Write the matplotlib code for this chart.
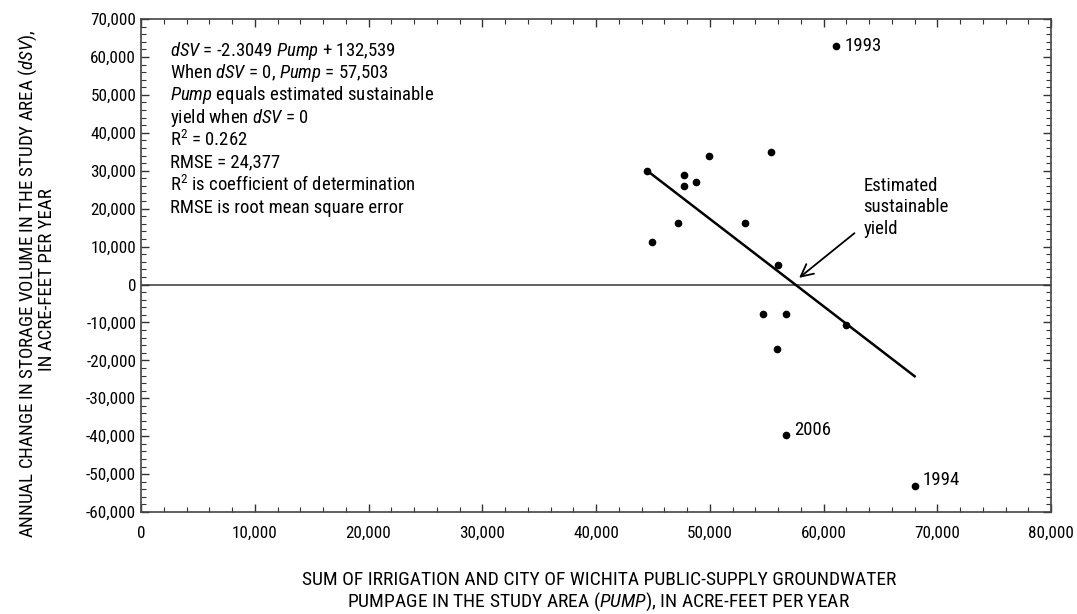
import matplotlib
matplotlib.use("Agg")
import matplotlib.pyplot as plt
from matplotlib import font_manager
from matplotlib.ticker import MultipleLocator, FuncFormatter

# condensed face if there is one, else Roboto
have = {f.name for f in font_manager.fontManager.ttflist}
face = "Roboto"
for cand in ["Roboto Condensed", "Liberation Sans Narrow", "Open Sans Condensed", "Arial Narrow"]:
    if cand in have:
        face = cand
        break

plt.rcParams['font.family'] = [face, 'DejaVu Sans']
plt.rcParams['mathtext.fontset'] = 'custom'
plt.rcParams['mathtext.rm'] = face
plt.rcParams['mathtext.it'] = face + ':italic'

fs_note = 13.5
fs_tick = 12.3
fs_xlab = 14
fs_ylab = 13.6

# pumpage (acre-ft/yr) and change in storage (acre-ft/yr)
pump = [44500, 49900, 55400, 47700, 47700, 48800, 47200, 53100, 44900, 56000,
        54700, 56700, 55900, 62000, 61100, 56700, 68000]
dsv = [30000, 34000, 35000, 29000, 26100, 27000, 16100, 16100, 11100, 5100,
       -7900, -7900, -16900, -10800, 63000, -39800, -53000]
labels = {14: "1993", 15: "2006", 16: "1994"}

slope = -2.3049
intercept = 132539
yield_pump = 57503

notes = [
    r"$\mathit{dSV}$ = -2.3049 $\mathit{Pump}$ + 132,539",
    r"When $\mathit{dSV}$ = 0, $\mathit{Pump}$ = 57,503",
    r"$\mathit{Pump}$ equals estimated sustainable",
    r"yield when $\mathit{dSV}$ = 0",
    r"R$^2$ = 0.262",
    r"RMSE = 24,377",
    r"R$^2$ is coefficient of determination",
    r"RMSE is root mean square error",
]

fig = plt.figure(figsize=(10.77, 6.14), dpi=100)
ax = fig.add_axes([0.131, 0.166, 0.845, 0.803])

ax.axhline(0, color="#555555", lw=1.3, zorder=1)

x0, x1 = min(pump), max(pump)
ax.plot([x0, x1], [slope * x0 + intercept, slope * x1 + intercept],
        color="black", lw=1.8, zorder=2)
ax.plot(pump, dsv, "o", color="black", ms=4.5, zorder=3)

for i, s in labels.items():
    dy = 0 if s == "1993" else 4
    ax.annotate(s, (pump[i], dsv[i]), xytext=(6, dy), textcoords="offset points",
                ha="left", va="center", fontsize=fs_note)

ax.text(63500, 20400, "Estimated\nsustainable\nyield", ha="left", va="center",
        fontsize=fs_note, linespacing=1.25)
ax.annotate("", xy=(yield_pump + 150, 1300), xytext=(62900, 14000),
            arrowprops=dict(arrowstyle="->", color="black", lw=1.3,
                            mutation_scale=22))

for k, line in enumerate(notes):
    ax.text(0.032, 0.936 - k * 0.0455, line, transform=ax.transAxes,
            ha="left", va="center", fontsize=fs_note)

ax.set_xlim(0, 80000)
ax.set_ylim(-60000, 70000)
ax.xaxis.set_major_locator(MultipleLocator(10000))
ax.xaxis.set_minor_locator(MultipleLocator(2000))
ax.yaxis.set_major_locator(MultipleLocator(10000))
ax.yaxis.set_minor_locator(MultipleLocator(2000))
fmt = FuncFormatter(lambda v, p: f"{v:,.0f}")
ax.xaxis.set_major_formatter(fmt)
ax.yaxis.set_major_formatter(fmt)
ax.tick_params(which="both", direction="in", top=True, right=True,
               labelsize=fs_tick, color="#333333")
ax.tick_params(which="major", length=6, width=1)
ax.tick_params(which="minor", length=3.5, width=0.8)
ax.tick_params(axis="x", pad=10)
for sp in ax.spines.values():
    sp.set_color("#444444")
    sp.set_linewidth(1.2)

fig.text(0.556, 1 - 580 / 614, "SUM OF IRRIGATION AND CITY OF WICHITA PUBLIC-SUPPLY GROUNDWATER",
         ha="center", va="center", fontsize=fs_xlab)
fig.text(0.556, 1 - 602 / 614,
         r"PUMPAGE IN THE STUDY AREA $\mathit{(PUMP)}$, IN ACRE-FEET PER YEAR",
         ha="center", va="center", fontsize=fs_xlab)
fig.text(28 / 1077, 1 - 284 / 614,
         r"ANNUAL CHANGE IN STORAGE VOLUME IN THE STUDY AREA $\mathit{(dSV)}$,",
         rotation=90, ha="center", va="center", fontsize=fs_ylab)
fig.text(47 / 1077, 1 - 280 / 614, "IN ACRE-FEET PER YEAR",
         rotation=90, ha="center", va="center", fontsize=fs_ylab)

fig.savefig("out.png", dpi=100)
